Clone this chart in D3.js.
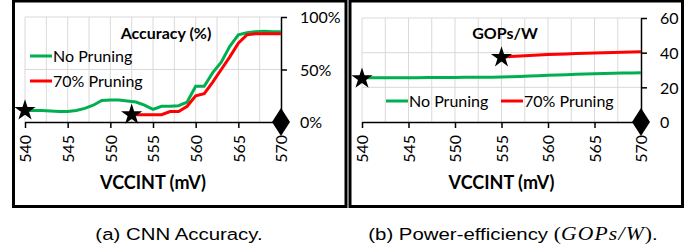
<!DOCTYPE html>
<html>
<head>
<meta charset="utf-8">
<script src="https://cdn.jsdelivr.net/npm/d3@7"></script>
<style>
  body { margin: 0; background: #fff; }
  svg text { font-family: Lato, "Open Sans", sans-serif; fill: #000; }
</style>
</head>
<body>
<div id="chart"></div>
<script>
// x values (mV)
var voltsAll = [540, 541, 542, 543, 544, 545, 546, 547, 548, 549, 550, 551, 552, 553, 554, 555,
                556, 557, 558, 559, 560, 561, 562, 563, 564, 565, 566, 567, 568, 569, 570]
var voltsAccPruned = [553, 554, 555, 556, 557, 558, 559, 560, 561, 562, 563, 564, 565, 566, 567, 568, 569, 570]
var voltsGopsPruned = [555, 556, 557, 558, 559, 560, 561, 562, 563, 564, 565, 566, 567, 568, 569, 570]
var xTicks = [540, 545, 550, 555, 560, 565, 570]

// accuracy (%)
var accNoPruning = [11, 11, 11, 10.5, 10, 10, 11, 13, 16, 20.5, 21, 21, 20, 19, 16, 12,
                    15, 15, 15.5, 19, 34, 34, 47, 57, 72, 83, 85, 86, 86.5, 86, 86]
var accPruning = [7, 7, 7, 7, 10, 10, 15, 25, 27, 38, 50, 62, 75, 83, 84, 84, 84, 84]
var accTicks = [0, 50, 100]

// GOPs/W
var gopsNoPruning = [25.6, 25.6, 25.6, 25.6, 25.6, 25.6, 25.6, 25.7, 25.7, 25.7, 25.7, 25.8, 25.8, 25.8, 25.8, 25.9,
                     26.1, 26.3, 26.5, 26.7, 26.9, 27.1, 27.3, 27.5, 27.7, 27.8, 28.0, 28.1, 28.2, 28.3, 28.4]
var gopsPruning = [37.4, 37.8, 38.1, 38.4, 38.7, 38.9, 39.1, 39.3, 39.5, 39.7, 39.8, 40.0, 40.1, 40.3, 40.4, 40.6]
var gopsTicks = [0, 20, 40, 60]

// markers: [x, y]
var accStars = [[540, 11], [552.5, 7]]
var gopsStars = [[540, 25], [555, 37.3]]

var width = 693
var height = 252
var green = "#00b050"
var red = "#ff0000"

var svg = d3.select("#chart").append("svg").attr("width", width).attr("height", height)

function drawPanel(opt) {
    var g = svg.append("g")
    var x = d3.scaleLinear().domain([540, 570]).range([opt.x0, opt.x1])
    var y = d3.scaleLinear().domain(opt.yDomain).range([122, opt.yTop])

    // grid
    var gridX = d3.range(540, 570, 2.5)
    g.selectAll(".vgrid").data(gridX).enter().append("line")
        .attr("x1", d => x(d)).attr("x2", d => x(d))
        .attr("y1", y(opt.yDomain[1])).attr("y2", 122)
        .attr("stroke", "#d9d9d9").attr("stroke-width", 1)
    g.selectAll(".hgrid").data(opt.yTicks.slice(1)).enter().append("line")
        .attr("x1", opt.x0).attr("x2", opt.x1)
        .attr("y1", d => y(d)).attr("y2", d => y(d))
        .attr("stroke", "#d9d9d9").attr("stroke-width", 1)

    // x axis
    var xAxis = g.append("g").attr("transform", "translate(0,122)")
        .call(d3.axisBottom(x).tickValues(xTicks).tickSize(6).tickSizeOuter(0).tickFormat(d3.format("d")))
    xAxis.select(".domain").attr("stroke", "#000").attr("stroke-width", 1.5)
    xAxis.selectAll(".tick line").attr("stroke", "#000").attr("stroke-width", 1.5)
    xAxis.selectAll(".tick text")
        .attr("transform", "rotate(-90)")
        .attr("x", -13).attr("y", 0).attr("dy", "0.36em")
        .attr("text-anchor", "end")
        .style("font-size", "16px").style("font-family", "Lato")

    // right y axis
    var yAxis = g.append("g").attr("transform", "translate(" + opt.x1 + ",0)")
        .call(d3.axisRight(y).tickValues(opt.yTicks).tickSize(6).tickSizeOuter(0).tickFormat(opt.fmt))
    yAxis.select(".domain").attr("stroke", "#000").attr("stroke-width", 1.5)
    yAxis.selectAll(".tick line").attr("stroke", "#000").attr("stroke-width", 1.5)
    yAxis.selectAll(".tick text").attr("x", 19).attr("dy", "0.36em")
        .style("font-size", "16px").style("font-family", "Lato")

    // lines
    var line = d3.line().x(d => x(d[0])).y(d => y(d[1]))
    g.append("path").datum(d3.zip(voltsAll, opt.noPrune))
        .attr("d", line).attr("fill", "none").attr("stroke", green).attr("stroke-width", 3)
    g.append("path").datum(d3.zip(opt.prunedX, opt.prune))
        .attr("d", line).attr("fill", "none").attr("stroke", red).attr("stroke-width", 3)

    // markers
    g.selectAll(".star").data(opt.stars).enter().append("path")
        .attr("d", d3.symbol().type(d3.symbolStar).size(140))
        .attr("transform", d => "translate(" + x(d[0]) + "," + y(d[1]) + ")")
        .attr("fill", "#000")
    g.append("path")
        .attr("d", "M0,-14L9,0L0,14L-9,0Z")
        .attr("transform", "translate(" + x(570) + "," + y(0) + ")")
        .attr("fill", "#000")

    // titles
    g.append("text").attr("x", opt.titleX).attr("y", 39).attr("text-anchor", "middle")
        .style("font-weight", "bold").style("font-size", "16px").text(opt.title)
    g.append("text").attr("x", (opt.x0 + opt.x1) / 2).attr("y", 189).attr("text-anchor", "middle")
        .style("font-weight", "bold").style("font-size", "18px").text("VCCINT (mV)")

    // legend
    opt.legend.forEach(function(l) {
        g.append("line").attr("x1", l.x).attr("x2", l.x + 22).attr("y1", l.y).attr("y2", l.y)
            .attr("stroke", l.color).attr("stroke-width", 3)
        g.append("text").attr("x", l.x + 23).attr("y", l.y).attr("dy", "0.36em")
            .style("font-size", "16px").text(l.label)
    })

    // border
    svg.append("rect").attr("x", opt.box[0]).attr("y", 1)
        .attr("width", opt.box[1] - opt.box[0]).attr("height", 205.5)
        .attr("fill", "none").attr("stroke", "#000").attr("stroke-width", 3)
}

drawPanel({
    x0: 25, x1: 281, yDomain: [0, 100], yTop: 17, yTicks: accTicks,
    fmt: d => d + "%",
    noPrune: accNoPruning, prune: accPruning, prunedX: voltsAccPruned, stars: accStars,
    title: "Accuracy (%)", titleX: 166,
    legend: [{x: 30, y: 56, color: green, label: "No Pruning"},
             {x: 30, y: 81, color: red, label: "70% Pruning"}],
    box: [13.5, 346]
})

drawPanel({
    x0: 362, x1: 641, yDomain: [0, 60], yTop: 18, yTicks: gopsTicks,
    fmt: d3.format("d"),
    noPrune: gopsNoPruning, prune: gopsPruning, prunedX: voltsGopsPruned, stars: gopsStars,
    title: "GOPs/W", titleX: 505,
    legend: [{x: 386, y: 101, color: green, label: "No Pruning"},
             {x: 501, y: 101, color: red, label: "70% Pruning"}],
    box: [350, 682.5]
})

// captions (the source image is a little stretched horizontally)
var capFont = "'Liberation Sans', Arial, sans-serif"
var serif = "'Liberation Serif', 'DejaVu Serif', serif"

svg.append("g").attr("transform", "translate(179,240) scale(1.2,1)")
    .append("text").attr("text-anchor", "middle")
    .style("font-family", capFont).style("font-size", "17px")
    .text("(a) CNN Accuracy.")

var capB = svg.append("g").attr("transform", "translate(513,240) scale(1.2,1)")
    .append("text").attr("text-anchor", "middle")
    .style("font-family", capFont).style("font-size", "17px")
capB.append("tspan").text("(b) Power-efficiency ")
capB.append("tspan").style("font-family", serif).style("font-size", "18px").text("(")
capB.append("tspan").style("font-family", serif).style("font-style", "italic")
    .style("font-size", "18px").style("letter-spacing", "1px").text("GOPs/W")
capB.append("tspan").style("font-family", serif).style("font-size", "18px").text(")")
capB.append("tspan").text(".")
</script>
</body>
</html>
